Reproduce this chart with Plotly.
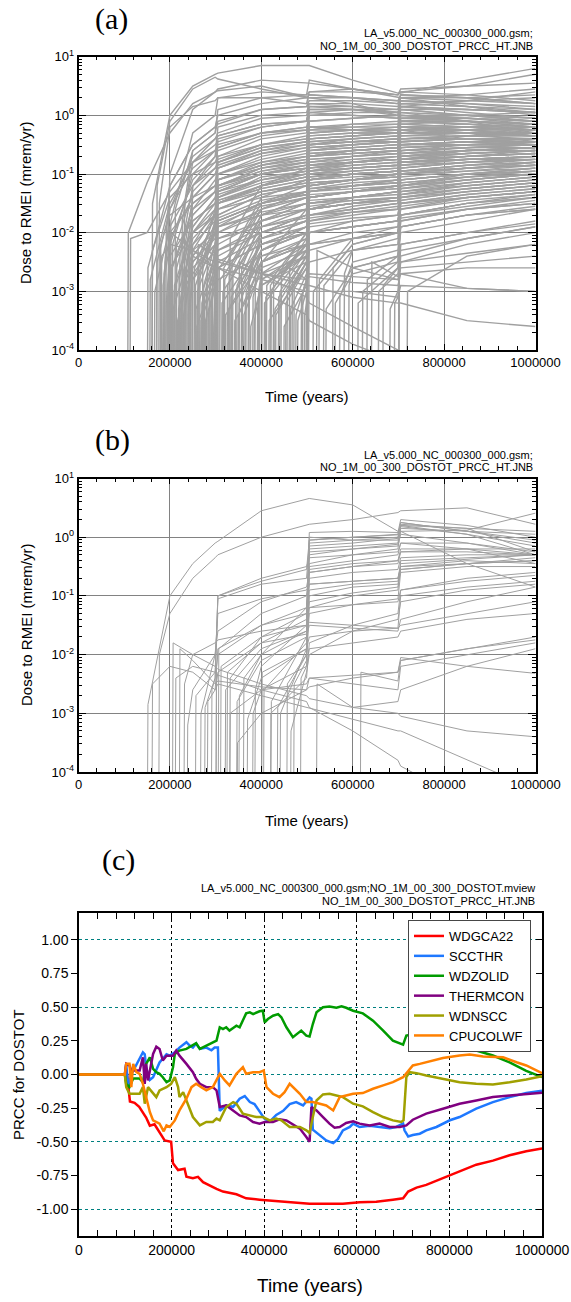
import plotly.graph_objects as go

_ = None

# ---------------- Panels (a) and (b): dose realizations ----------------
# Time knots (thousand years) at which each realization's log10 dose is read
KNOTS_KYR = [150, 200, 250, 299, 305, 400, 499, 505, 600, 699, 705, 850, 1000]

# row: onset time (kyr), log10 dose right after onset, then log10 dose at KNOTS_KYR (None = before onset)
DOSE_A = [
    (107, -2.0, -1.15, -0.3, 0.2, 0.4, 0.42, 0.5, 0.3, 0.3, 0.2, 0.0, 0.05, -0.1, -0.3),
    (112, -2.1, -2.0, -1.3, -0.8, -0.6, -0.55, -0.3, -0.2, -0.2, -0.25, -0.3, -0.25, -0.4, -0.5),
    (160, -1.5, _, 0.0, 0.5, 0.7, 0.72, 0.85, 0.85, 0.85, 0.6, 0.38, 0.38, 0.6, 0.8),
    (170, -1.2, _, -0.1, 0.45, 0.65, 0.62, 0.45, 0.3, 0.35, 0.3, 0.25, 0.3, 0.25, 0.2),
    (175, -1.5, _, -0.2, 0.15, 0.25, 0.3, 0.3, 0.2, 0.4, 0.45, 0.35, 0.4, 0.35, 0.25),
    (200, -1.8, _, _, -0.3, 0.0, 0.3, 0.4, 0.35, 0.6, 0.45, 0.35, 0.45, 0.5, 0.55),
    (230, -1.5, _, _, -0.6, -0.3, 0.1, 0.3, 0.35, 0.4, 0.4, 0.35, 0.4, 0.5, 0.7),
    (195, -1.7, _, -1.0, 0.1, 0.4, 0.45, 0.6, 0.55, 0.55, 0.45, 0.3, 0.3, 0.15, 0.0),
    (150, -2.6, _, -1.2, -0.5, -0.2, -0.15, 0.1, 0.15, 0.2, 0.15, 0.05, 0.1, 0.0, -0.1),
    (155, -2.8, _, -1.5, -0.8, -0.5, -0.45, -0.2, -0.1, 0.1, 0.1, 0.05, 0.15, 0.1, 0.05),
    (160, -2.3, _, -1.4, -1.0, -0.8, -0.7, -0.5, -0.35, -0.2, -0.2, -0.15, 0.0, -0.05, -0.15),
    (165, -3.0, _, -1.9, -1.2, -0.9, -0.85, -0.6, -0.5, -0.4, -0.35, -0.3, -0.15, -0.2, -0.3),
    (170, -2.5, _, -1.6, -0.9, -0.6, -0.5, -0.3, -0.25, -0.2, -0.25, -0.3, -0.2, -0.3, -0.45),
    (178, -2.2, _, -1.7, -1.4, -1.2, -1.1, -0.9, -0.8, -0.6, -0.55, -0.5, -0.3, -0.3, -0.3),
    (185, -2.7, _, -2.0, -1.5, -1.2, -1.0, -0.8, -0.7, -0.4, -0.35, -0.3, -0.1, -0.1, -0.2),
    (190, -3.2, _, -2.4, -1.8, -1.5, -1.3, -1.0, -0.9, -0.7, -0.6, -0.55, -0.35, -0.35, -0.4),
    (196, -2.4, _, -2.1, -1.4, -1.0, -0.9, -0.6, -0.45, -0.3, -0.25, -0.2, 0.0, -0.05, -0.1),
    (198, -3.0, _, -2.6, -2.0, -1.7, -1.5, -1.2, -1.0, -0.8, -0.7, -0.6, -0.4, -0.35, -0.3),
    (202, -2.6, _, _, -1.6, -1.1, -1.0, -0.7, -0.55, -0.45, -0.4, -0.35, -0.2, -0.25, -0.35),
    (205, -3.3, _, _, -2.2, -1.8, -1.6, -1.3, -1.15, -0.9, -0.85, -0.8, -0.55, -0.5, -0.5),
    (208, -2.9, _, _, -1.9, -1.4, -1.2, -0.9, -0.8, -0.5, -0.45, -0.4, -0.2, -0.2, -0.25),
    (212, -2.2, _, _, -1.3, -0.9, -0.8, -0.5, -0.4, -0.2, -0.2, -0.2, 0.0, -0.1, -0.2),
    (215, -3.5, _, _, -2.5, -2.1, -1.8, -1.5, -1.3, -1.1, -1.0, -0.95, -0.7, -0.6, -0.55),
    (218, -2.8, _, _, -1.7, -1.3, -1.2, -1.0, -0.9, -0.7, -0.6, -0.55, -0.35, -0.3, -0.35),
    (222, -3.1, _, _, -2.3, -2.0, -1.9, -1.7, -1.6, -1.4, -1.3, -1.2, -0.9, -0.8, -0.7),
    (225, -2.5, _, _, -1.4, -1.0, -0.9, -0.65, -0.55, -0.35, -0.3, -0.3, -0.1, -0.15, -0.2),
    (228, -3.4, _, _, -2.6, -2.2, -2.0, -1.6, -1.4, -1.2, -1.1, -1.0, -0.75, -0.7, -0.65),
    (232, -2.7, _, _, -1.8, -1.5, -1.3, -1.1, -1.0, -0.85, -0.8, -0.75, -0.5, -0.45, -0.45),
    (236, -3.0, _, _, -2.4, -1.9, -1.5, -1.2, -1.05, -0.6, -0.55, -0.5, -0.3, -0.3, -0.35),
    (240, -2.4, _, _, -2.0, -1.6, -1.45, -1.25, -1.1, -1.0, -0.95, -0.9, -0.65, -0.6, -0.55),
    (243, -3.2, _, _, -2.8, -2.3, -2.1, -1.8, -1.6, -1.4, -1.3, -1.25, -1.0, -0.9, -0.8),
    (247, -2.9, _, _, -2.3, -1.7, -1.1, -0.85, -0.7, -0.5, -0.45, -0.4, -0.2, -0.2, -0.25),
    (252, -2.6, _, _, _, -1.7, -1.5, -1.3, -1.2, -1.05, -1.0, -0.95, -0.75, -0.65, -0.6),
    (255, -3.3, _, _, _, -2.4, -1.3, -1.0, -0.85, -0.6, -0.55, -0.5, -0.3, -0.3, -0.3),
    (258, -3.0, _, _, _, -2.2, -2.0, -1.7, -1.5, -1.3, -1.2, -1.1, -0.85, -0.8, -0.75),
    (262, -2.8, _, _, _, -2.0, -1.1, -0.8, -0.65, -0.4, -0.35, -0.3, -0.1, -0.1, -0.15),
    (266, -3.5, _, _, _, -2.8, -2.5, -2.1, -1.9, -1.7, -1.55, -1.45, -1.2, -1.0, -0.9),
    (270, -2.5, _, _, _, -2.0, -1.8, -1.5, -1.35, -1.2, -1.1, -1.05, -0.8, -0.7, -0.65),
    (274, -3.1, _, _, _, -2.6, -1.4, -1.15, -1.0, -0.8, -0.75, -0.7, -0.45, -0.4, -0.4),
    (278, -2.9, _, _, _, -2.5, -2.3, -2.0, -1.8, -1.6, -1.5, -1.4, -1.1, -1.0, -0.9),
    (282, -3.4, _, _, _, -2.9, -1.6, -1.3, -1.15, -0.95, -0.9, -0.85, -0.6, -0.5, -0.5),
    (286, -2.7, _, _, _, -2.3, -2.1, -1.9, -1.75, -1.6, -1.5, -1.45, -1.3, -1.2, -1.1),
    (290, -3.0, _, _, _, -2.6, -1.2, -0.9, -0.75, -0.45, -0.4, -0.35, -0.15, -0.2, -0.25),
    (294, -3.6, _, _, _, -3.0, -2.8, -2.4, -2.2, -2.0, -1.9, -1.8, -1.5, -1.35, -1.25),
    (297, -2.8, _, _, _, -2.6, -1.5, -1.2, -1.05, -0.75, -0.7, -0.65, -0.4, -0.35, -0.35),
    (300, -3.0, _, _, _, _, -1.9, -1.5, -1.3, -1.1, -1.0, -0.95, -0.7, -0.6, -0.55),
    (301, -2.5, _, _, _, _, -1.3, -1.0, -0.85, -0.65, -0.6, -0.55, -0.3, -0.3, -0.35),
    (302, -3.3, _, _, _, _, -2.4, -2.0, -1.8, -1.5, -1.4, -1.3, -1.0, -0.9, -0.8),
    (300, -2.2, _, _, _, _, -1.0, -0.75, -0.6, -0.35, -0.3, -0.3, -0.05, -0.1, -0.15),
    (300, -1.6, _, _, _, _, -1.4, -1.1, -0.95, -0.7, -0.65, -0.6, -0.35, -0.3, -0.3),
    (300, -0.9, _, _, _, _, -0.8, -0.55, -0.45, -0.2, -0.15, -0.15, 0.05, 0.0, -0.05),
    (300, -0.4, _, _, _, _, -0.35, -0.15, -0.1, 0.15, 0.15, 0.1, 0.25, 0.2, 0.15),
    (300, -2.0, _, _, _, _, -1.85, -1.55, -1.4, -1.15, -1.1, -1.0, -0.75, -0.65, -0.6),
    (308, -2.8, _, _, _, _, _, -1.8, -1.5, -1.2, -1.1, -1.0, -0.75, -0.7, -0.6),
    (312, -3.2, _, _, _, _, _, -2.2, -1.9, -1.4, -1.3, -1.2, -0.95, -0.85, -0.8),
    (316, -2.6, _, _, _, _, _, -1.5, -1.2, -0.7, -0.6, -0.55, -0.3, -0.3, -0.3),
    (320, -3.4, _, _, _, _, _, -2.5, -2.2, -2.0, -1.9, -1.8, -1.5, -1.4, -1.3),
    (324, -2.9, _, _, _, _, _, -1.9, -1.6, -1.3, -1.25, -1.2, -0.95, -0.85, -0.75),
    (328, -2.4, _, _, _, _, _, -1.4, -1.1, -0.5, -0.4, -0.35, -0.1, -0.15, -0.25),
    (332, -3.1, _, _, _, _, _, -2.3, -2.0, -1.6, -1.5, -1.45, -1.2, -1.1, -1.0),
    (336, -2.7, _, _, _, _, _, -1.7, -1.4, -1.0, -0.95, -0.9, -0.65, -0.55, -0.5),
    (340, -3.5, _, _, _, _, _, -2.7, -2.4, -2.2, -2.1, -2.0, -1.7, -1.55, -1.4),
    (345, -2.9, _, _, _, _, _, -2.0, -1.7, -0.9, -0.8, -0.75, -0.5, -0.45, -0.45),
    (350, -3.2, _, _, _, _, _, -2.3, -2.0, -1.8, -1.7, -1.6, -1.35, -1.2, -1.1),
    (355, -2.6, _, _, _, _, _, -1.8, -1.5, -1.1, -1.0, -0.95, -0.7, -0.65, -0.6),
    (360, -3.4, _, _, _, _, _, -2.6, -2.3, -1.4, -1.3, -1.2, -0.9, -0.8, -0.75),
    (365, -3.0, _, _, _, _, _, -2.3, -2.0, -1.7, -1.65, -1.6, -1.4, -1.25, -1.15),
    (370, -2.8, _, _, _, _, _, -2.1, -1.8, -0.8, -0.7, -0.65, -0.4, -0.4, -0.45),
    (375, -3.6, _, _, _, _, _, -2.9, -2.5, -2.2, -2.1, -2.0, -1.75, -1.6, -1.5),
    (380, -3.1, _, _, _, _, _, -2.5, -2.2, -1.3, -1.2, -1.1, -0.85, -0.75, -0.7),
    (385, -2.7, _, _, _, _, _, -2.3, -1.9, -1.5, -1.45, -1.4, -1.1, -1.0, -0.95),
    (390, -3.3, _, _, _, _, _, -2.9, -2.4, -0.6, -0.5, -0.45, -0.2, -0.25, -0.35),
    (395, -3.0, _, _, _, _, _, -2.8, -2.3, -1.9, -1.8, -1.7, -1.4, -1.3, -1.2),
    (405, -3.2, _, _, _, _, _, _, -2.3, -1.0, -0.9, -0.85, -0.6, -0.55, -0.55),
    (410, -2.9, _, _, _, _, _, _, -2.0, -1.7, -1.6, -1.5, -1.25, -1.1, -1.0),
    (415, -3.5, _, _, _, _, _, _, -2.6, -2.3, -2.1, -2.0, -1.7, -1.5, -1.4),
    (420, -3.0, _, _, _, _, _, _, -2.1, -0.7, -0.6, -0.55, -0.3, -0.3, -0.35),
    (425, -2.8, _, _, _, _, _, _, -2.2, -1.3, -1.2, -1.15, -0.9, -0.8, -0.75),
    (430, -3.4, _, _, _, _, _, _, -2.5, -2.0, -1.9, -1.8, -1.55, -1.4, -1.3),
    (436, -3.1, _, _, _, _, _, _, -2.4, -1.1, -1.0, -0.95, -0.65, -0.6, -0.6),
    (442, -2.7, _, _, _, _, _, _, -2.2, -1.6, -1.5, -1.4, -1.15, -1.05, -0.95),
    (448, -3.6, _, _, _, _, _, _, -2.9, -2.5, -2.3, -2.2, -1.9, -1.7, -1.6),
    (455, -3.0, _, _, _, _, _, _, -2.5, -0.9, -0.8, -0.75, -0.5, -0.45, -0.5),
    (462, -3.3, _, _, _, _, _, _, -2.7, -1.8, -1.65, -1.55, -1.3, -1.15, -1.05),
    (470, -2.9, _, _, _, _, _, _, -2.5, -1.2, -1.1, -1.0, -0.75, -0.7, -0.65),
    (478, -3.5, _, _, _, _, _, _, -3.0, -2.2, -2.0, -1.9, -1.6, -1.45, -1.35),
    (486, -3.1, _, _, _, _, _, _, -2.8, -1.5, -1.4, -1.3, -1.0, -0.9, -0.85),
    (493, -3.4, _, _, _, _, _, _, -3.2, -2.0, -1.9, -1.8, -1.5, -1.4, -1.3),
    (500, -0.3, _, _, _, _, _, _, _, -0.25, -0.15, -0.1, 0.1, 0.1, 0.05),
    (500, 0.3, _, _, _, _, _, _, _, 0.3, 0.3, 0.25, 0.35, 0.3, 0.2),
    (500, -1.0, _, _, _, _, _, _, _, -0.95, -0.8, -0.7, -0.45, -0.4, -0.4),
    (500, -1.7, _, _, _, _, _, _, _, -1.6, -1.4, -1.3, -1.0, -0.9, -0.85),
    (502, -2.4, _, _, _, _, _, _, _, -2.0, -1.8, -1.7, -1.4, -1.25, -1.15),
    (512, -3.0, _, _, _, _, _, _, _, _, -2.2, -2.0, -1.6, -1.4, -1.3),
    (525, -2.8, _, _, _, _, _, _, _, _, -2.1, -1.9, -1.2, -1.1, -1.0),
    (540, -3.3, _, _, _, _, _, _, _, _, -2.6, -2.4, -2.0, -1.8, -1.6),
    (555, -2.6, _, _, _, _, _, _, _, _, -2.2, -2.0, -1.5, -1.35, -1.25),
    (570, -3.1, _, _, _, _, _, _, _, _, -2.5, -2.3, -1.8, -1.6, -1.45),
    (590, -2.9, _, _, _, _, _, _, _, _, -2.6, -2.4, -1.9, -1.7, -1.55),
    (610, -3.2, _, _, _, _, _, _, _, _, _, -2.6, -2.2, -2.0, -1.8),
    (630, -2.8, _, _, _, _, _, _, _, _, _, -2.4, -1.7, -1.5, -1.4),
    (655, -3.0, _, _, _, _, _, _, _, _, _, -2.7, -2.3, -2.1, -1.9),
    (680, -3.3, _, _, _, _, _, _, _, _, _, -3.0, -2.5, -2.2, -2.0),
    (700, -2.7, _, _, _, _, _, _, _, _, _, _, -2.2, -2.0, -1.85),
    (700, -0.2, _, _, _, _, _, _, _, _, _, _, -0.2, -0.15, -0.2),
    (700, -0.8, _, _, _, _, _, _, _, _, _, _, -0.75, -0.6, -0.55),
    (700, -1.4, _, _, _, _, _, _, _, _, _, _, -1.35, -1.15, -1.05),
    (718, -3.0, _, _, _, _, _, _, _, _, _, _, _, -2.4, -2.2),
    (200, -2.0, _, _, -2.3, -2.5, -2.5, -2.7, -2.9, -2.9, -3.1, -3.2, -3.2, -3.5, -3.6),
    (240, -2.3, _, _, -2.4, -2.6, -2.6, -2.8, -3.0, -3.0, -3.0, -3.1, -2.9, -2.95, -3.0),
    (350, -2.5, _, _, _, _, _, -2.7, -2.8, -2.75, -2.85, -2.9, -2.7, -2.6, -2.6),
    (460, -2.6, _, _, _, _, _, _, -2.8, -2.7, -2.75, -2.8, -2.6, -2.5, -2.4),
    (520, -2.3, _, _, _, _, _, _, _, _, -2.6, -2.8, -2.7, -2.95, -3.0),
    (640, -2.5, _, _, _, _, _, _, _, _, _, -2.75, -2.5, -2.35, -2.2),
    (180, -2.4, _, -2.2, -2.3, -2.6, -2.6, -3.0, -3.4, -3.5, -3.9, -4.2, -4.2, -4.6, -5.0),
    (260, -2.2, _, _, _, -2.4, -2.45, -2.7, -3.1, -3.2, -3.6, -4.0, -4.1, -4.5, -5.0),
    (210, -1.6, _, _, -0.6, -0.3, -0.1, 0.1, 0.15, 0.25, 0.25, 0.2, 0.35, 0.3, 0.2),
    (245, -2.0, _, _, -1.2, -0.7, -0.2, 0.0, 0.05, 0.2, 0.2, 0.15, 0.3, 0.3, 0.35),
    (280, -2.4, _, _, _, -1.8, -0.7, -0.4, -0.3, 0.05, 0.1, 0.1, 0.25, 0.2, 0.1),
    (330, -2.1, _, _, _, _, _, -1.2, -0.9, 0.0, 0.05, 0.05, 0.2, 0.25, 0.3),
    (400, -2.5, _, _, _, _, _, _, -1.6, -0.1, -0.05, 0.0, 0.2, 0.15, 0.05),
    (225, -1.8, _, _, -0.8, -0.4, -0.3, -0.05, 0.0, 0.15, 0.1, 0.0, 0.15, 0.25, 0.4),
    (190, -2.0, _, -1.2, -0.5, -0.2, 0.0, 0.2, 0.3, 0.35, 0.3, 0.2, 0.3, 0.35, 0.45),
    (260, -2.6, _, _, _, -1.6, -0.4, -0.2, -0.1, 0.1, 0.1, 0.05, 0.15, 0.05, -0.05),
    (183, -2.9, _, -2.2, -1.1, -0.7, -0.6, -0.35, -0.25, -0.1, -0.05, 0.0, 0.2, 0.15, 0.1),
    (187, -2.5, _, -1.6, -0.7, -0.4, -0.35, -0.15, -0.1, 0.05, 0.0, -0.05, 0.1, 0.0, -0.1),
    (193, -3.1, _, -2.7, -1.7, -1.3, -1.2, -0.95, -0.85, -0.55, -0.5, -0.45, -0.25, -0.2, -0.15),
    (204, -2.2, _, _, -1.0, -0.6, -0.55, -0.3, -0.2, 0.0, 0.0, -0.05, 0.15, 0.1, 0.05),
    (207, -3.0, _, _, -2.0, -1.5, -1.4, -1.05, -0.95, -0.75, -0.7, -0.65, -0.45, -0.4, -0.4),
    (213, -2.6, _, _, -1.5, -1.2, -1.1, -0.85, -0.75, -0.55, -0.5, -0.45, -0.25, -0.25, -0.3),
    (217, -3.3, _, _, -2.4, -1.9, -1.7, -1.35, -1.2, -0.95, -0.9, -0.85, -0.6, -0.55, -0.5),
    (220, -2.4, _, _, -1.2, -0.8, -0.75, -0.5, -0.4, -0.25, -0.25, -0.25, -0.05, 0.0, 0.05),
    (224, -3.0, _, _, -2.1, -1.7, -1.6, -1.4, -1.3, -1.15, -1.1, -1.05, -0.8, -0.75, -0.7),
    (227, -2.7, _, _, -1.6, -1.3, -0.8, -0.55, -0.45, -0.3, -0.25, -0.2, 0.0, 0.0, -0.05),
    (231, -3.2, _, _, -2.5, -2.0, -1.8, -1.5, -1.35, -1.25, -1.2, -1.15, -0.95, -0.9, -0.85),
    (234, -2.5, _, _, -1.9, -1.4, -1.35, -1.1, -0.95, -0.7, -0.65, -0.6, -0.4, -0.35, -0.3),
    (238, -3.4, _, _, -2.7, -2.2, -1.9, -1.65, -1.5, -1.35, -1.3, -1.2, -1.0, -0.95, -0.9),
    (242, -2.8, _, _, -2.2, -1.6, -1.5, -1.25, -1.1, -0.85, -0.8, -0.75, -0.55, -0.5, -0.45),
    (249, -3.1, _, _, -2.8, -2.0, -1.2, -0.95, -0.8, -0.55, -0.5, -0.45, -0.25, -0.25, -0.25),
    (254, -2.9, _, _, _, -1.9, -1.75, -1.45, -1.3, -1.1, -1.05, -1.0, -0.8, -0.75, -0.7),
    (257, -3.6, _, _, _, -2.7, -2.3, -1.9, -1.7, -1.5, -1.4, -1.35, -1.1, -1.0, -0.95),
    (264, -2.6, _, _, _, -1.8, -0.9, -0.65, -0.5, -0.3, -0.25, -0.25, -0.05, -0.05, -0.1),
    (268, -3.2, _, _, _, -2.4, -2.2, -1.8, -1.6, -1.45, -1.4, -1.3, -1.05, -0.95, -0.85),
    (272, -2.9, _, _, _, -2.2, -1.25, -1.0, -0.9, -0.7, -0.65, -0.6, -0.4, -0.35, -0.35),
    (276, -3.5, _, _, _, -2.9, -2.6, -2.2, -2.0, -1.85, -1.75, -1.7, -1.45, -1.3, -1.2),
    (284, -3.0, _, _, _, -2.5, -1.45, -1.2, -1.05, -0.85, -0.8, -0.75, -0.5, -0.5, -0.45),
    (288, -3.3, _, _, _, -2.8, -2.6, -2.2, -2.0, -1.75, -1.65, -1.6, -1.35, -1.25, -1.15),
    (292, -2.7, _, _, _, -2.4, -1.1, -0.85, -0.7, -0.5, -0.45, -0.45, -0.25, -0.2, -0.2),
    (296, -3.1, _, _, _, -2.9, -1.8, -1.5, -1.35, -1.15, -1.1, -1.0, -0.8, -0.7, -0.65),
    (303, -2.9, _, _, _, _, -1.7, -1.35, -1.2, -0.95, -0.9, -0.85, -0.6, -0.55, -0.5),
    (306, -2.6, _, _, _, _, _, -1.6, -1.3, -0.85, -0.8, -0.75, -0.5, -0.45, -0.4),
    (314, -3.0, _, _, _, _, _, -2.0, -1.7, -1.1, -1.0, -0.95, -0.7, -0.6, -0.55),
    (318, -2.8, _, _, _, _, _, -1.7, -1.4, -0.4, -0.35, -0.3, -0.1, -0.05, -0.1),
    (326, -3.3, _, _, _, _, _, -2.4, -2.1, -1.7, -1.6, -1.5, -1.25, -1.1, -1.0),
    (334, -2.5, _, _, _, _, _, -1.6, -1.3, -0.65, -0.6, -0.55, -0.3, -0.25, -0.2),
    (342, -3.0, _, _, _, _, _, -2.2, -1.9, -1.3, -1.2, -1.1, -0.8, -0.75, -0.75),
    (348, -3.4, _, _, _, _, _, -2.5, -2.2, -1.55, -1.45, -1.4, -1.1, -1.0, -0.9),
    (357, -2.9, _, _, _, _, _, -2.1, -1.8, -1.0, -0.9, -0.85, -0.55, -0.5, -0.5),
    (363, -3.2, _, _, _, _, _, -2.5, -2.1, -1.2, -1.1, -1.05, -0.75, -0.7, -0.65),
    (372, -2.7, _, _, _, _, _, -2.0, -1.7, -0.5, -0.45, -0.4, -0.15, -0.1, -0.15),
    (383, -3.5, _, _, _, _, _, -2.8, -2.4, -1.6, -1.5, -1.45, -1.2, -1.05, -0.95),
    (392, -3.0, _, _, _, _, _, -2.7, -2.2, -1.05, -0.95, -0.9, -0.6, -0.55, -0.55),
    (408, -3.1, _, _, _, _, _, _, -2.2, -1.4, -1.3, -1.2, -0.95, -0.85, -0.8),
    (418, -2.9, _, _, _, _, _, _, -2.0, -0.85, -0.75, -0.7, -0.45, -0.4, -0.4),
    (428, -3.3, _, _, _, _, _, _, -2.4, -1.6, -1.5, -1.4, -1.15, -1.05, -1.0),
    (439, -3.0, _, _, _, _, _, _, -2.3, -1.25, -1.15, -1.1, -0.8, -0.75, -0.7),
    (452, -3.2, _, _, _, _, _, _, -2.6, -1.4, -1.3, -1.25, -0.95, -0.9, -0.85),
    (466, -2.8, _, _, _, _, _, _, -2.4, -0.95, -0.85, -0.8, -0.55, -0.5, -0.45),
    (474, -3.4, _, _, _, _, _, _, -2.8, -1.7, -1.6, -1.5, -1.25, -1.15, -1.05),
    (489, -3.0, _, _, _, _, _, _, -2.8, -1.1, -1.0, -0.95, -0.7, -0.65, -0.6),
    (497, -3.2, _, _, _, _, _, _, -3.0, -1.3, -1.2, -1.15, -0.85, -0.75, -0.7),
    (535, -2.9, _, _, _, _, _, _, _, _, -2.3, -2.1, -1.3, -1.2, -1.1),
    (560, -3.2, _, _, _, _, _, _, _, _, -2.7, -2.5, -1.7, -1.5, -1.35),
    (580, -2.7, _, _, _, _, _, _, _, _, -2.3, -2.2, -1.45, -1.3, -1.2),
    (620, -3.0, _, _, _, _, _, _, _, _, _, -2.5, -1.9, -1.7, -1.6),
    (665, -2.9, _, _, _, _, _, _, _, _, _, -2.6, -1.8, -1.6, -1.5),
    (690, -3.2, _, _, _, _, _, _, _, _, _, -3.1, -2.4, -2.1, -1.9),
]

DOSE_B = [
    (150, -2.85, _, -1.0, -0.45, -0.1, -0.07, 0.45, 0.65, 0.66, 0.55, 0.1, 0.1, -0.45, -0.85),
    (175, -2.0, _, -1.3, -0.7, -0.35, -0.3, 0.0, 0.2, 0.22, 0.3, 0.42, 0.45, 0.5, 0.22),
    (330, -2.4, _, _, _, _, _, -1.7, -1.3, -0.2, -0.15, -0.1, 0.1, 0.12, 0.41),
    (385, -2.6, _, _, _, _, _, -2.2, -1.5, 0.08, 0.1, 0.08, 0.3, 0.2, 0.0),
    (420, -2.8, _, _, _, _, _, _, -1.7, -0.05, 0.0, 0.04, 0.25, 0.1, -0.1),
    (440, -3.0, _, _, _, _, _, _, -1.9, -0.15, -0.1, -0.02, 0.22, 0.15, -0.25),
    (300, -2.5, _, _, _, _, -2.3, -1.8, -1.4, 0.0, -0.05, -0.05, 0.18, 0.05, -0.3),
    (470, -2.5, _, _, _, _, _, _, -2.1, -0.45, -0.3, -0.2, 0.15, 0.1, 0.05),
    (350, -2.7, _, _, _, _, _, -2.0, -1.2, -0.3, -0.2, -0.12, 0.2, 0.05, -0.15),
    (255, -2.7, _, _, _, -2.3, -1.0, -0.75, -0.55, -0.05, 0.0, 0.05, 0.2, 0.15, 0.1),
    (275, -2.9, _, _, _, -2.4, -1.05, -0.8, -0.7, -0.1, -0.05, 0.0, 0.25, 0.1, -0.05),
    (300, -2.2, _, _, _, _, -2.0, -1.5, -1.2, -0.8, -0.75, -0.7, -0.45, -0.38, -0.3),
    (320, -2.6, _, _, _, _, _, -1.9, -1.6, -1.1, -0.95, -0.85, -0.55, -0.45, -0.4),
    (360, -2.4, _, _, _, _, _, -2.0, -1.6, -0.7, -0.6, -0.55, -0.35, -0.3, -0.3),
    (400, -2.3, _, _, _, _, _, _, -1.9, -0.9, -0.8, -0.75, -0.5, -0.4, -0.45),
    (305, -1.9, _, _, _, _, _, -1.3, -1.0, -0.55, -0.45, -0.4, -0.2, -0.2, -0.3),
    (290, -2.6, _, _, _, -2.4, -1.0, -0.7, -0.5, -0.35, -0.3, -0.25, -0.1, -0.1, -0.25),
    (205, -1.8, _, _, -2.0, -2.2, -2.25, -2.5, -2.7, -2.75, -2.9, -3.0, -3.05, -3.3, -3.4),
    (220, -1.9, _, _, -2.1, -2.5, -2.45, -2.55, -2.6, -2.55, -2.4, -2.3, -2.1, -1.9, -1.7),
    (330, -3.0, _, _, _, _, _, -2.6, -2.5, -2.4, -2.35, -2.3, -2.05, -2.2, -2.32),
    (616, -2.3, _, _, _, _, _, _, _, _, _, -2.45, -2.1, -1.9, -1.75),
    (520, -2.5, _, _, _, _, _, _, _, _, -2.9, -2.8, -2.6, -2.2, -1.9),
    (160, -2.5, _, -2.2, -2.3, -2.6, -2.5, -2.7, -2.9, -2.9, -3.1, -3.3, -3.3, -3.8, -4.3),
    (230, -2.5, _, _, -2.0, -1.8, -1.75, -1.6, -1.5, -1.45, -1.5, -1.55, -1.5, -1.3, -1.1),
    (345, -2.8, _, _, _, _, _, -2.1, -1.7, -1.5, -1.55, -1.6, -1.4, -1.1, -0.85),
    (380, -3.0, _, _, _, _, _, -2.6, -2.2, -1.9, -1.8, -1.7, -1.6, -1.4, -1.3),
    (237, -3.2, _, _, -2.6, -2.0, -1.6, -1.1, -0.85, -0.6, -0.5, -0.45, -0.25, -0.2, -0.2),
    (266, -3.0, _, _, _, -2.0, -1.3, -1.05, -0.9, -0.8, -0.75, -0.7, -0.5, -0.45, -0.4),
    (310, -2.2, _, _, _, _, _, -1.7, -1.5, -0.25, -0.2, -0.15, 0.05, -0.1, -0.3),
    (324, -2.3, _, _, _, _, _, -1.8, -1.65, -0.5, -0.4, -0.3, -0.1, -0.2, -0.45),
    (404, -2.6, _, _, _, _, _, _, -1.8, -1.2, -1.0, -0.9, -0.4, -0.35, -0.3),
    (434, -2.9, _, _, _, _, _, _, -2.0, -1.3, -1.15, -1.05, -0.6, -0.5, -0.5),
    (455, -2.5, _, _, _, _, _, _, -2.0, -0.6, -0.5, -0.4, -0.25, -0.25, -0.3),
    (485, -2.4, _, _, _, _, _, _, -2.2, -1.0, -0.85, -0.8, -0.55, -0.45, -0.35),
    (211, -2.4, _, _, -2.2, -2.3, -2.35, -2.6, -2.8, -2.9, -3.3, -3.8, -3.9, -4.5, -5.0),
    (281, -2.8, _, _, _, -2.6, -1.9, -1.5, -1.3, -1.2, -1.15, -1.1, -0.9, -0.75, -0.65),
    (368, -3.1, _, _, _, _, _, -2.4, -1.9, -1.7, -1.6, -1.55, -1.0, -0.85, -0.75),
    (346, -3.5, _, _, _, _, _, -3.0, -2.6, -2.4, -2.5, -2.6, -2.2, -2.0, -1.8),
    (463, -3.3, _, _, _, _, _, _, -2.3, -2.0, -1.6, -1.4, -1.1, -0.9, -0.8),
    (419, -3.0, _, _, _, _, _, _, -2.4, -1.8, -1.5, -1.3, -0.9, -0.7, -0.6),
]

# ---------------- Panel (c): PRCC time histories ----------------
PRCC_NAMES = ["WDGCA22", "SCCTHR", "WDZOLID", "THERMCON", "WDNSCC", "CPUCOLWF"]

T_WDGCA22 = [0, 100, 104, 106, 110, 120, 130, 145, 153, 163, 174, 185, 199, 203, 214, 228, 232, 246, 257, 268,
             297, 311, 340, 361, 390, 426, 462, 498, 534, 570, 606, 642, 678, 700, 711, 729, 750, 786, 822, 858,
             894, 930, 966, 1000]
P_WDGCA22 = [0, 0, 0, -0.07, -0.2, -0.21, -0.24, -0.32, -0.38, -0.37, -0.43, -0.49, -0.5, -0.66, -0.71, -0.70, -0.76, -0.77, -0.76, -0.80,
             -0.85, -0.87, -0.89, -0.92, -0.93, -0.94, -0.95, -0.96, -0.96, -0.96, -0.95, -0.945, -0.93, -0.92, -0.87, -0.84, -0.82, -0.77, -0.72, -0.67,
             -0.64, -0.60, -0.57, -0.55]

T_SCCTHR = [0, 99, 102, 106, 113, 138, 142, 145, 153, 160, 174, 181, 189, 196, 207, 217, 232, 239, 246, 253,
            261, 275, 286, 293, 300, 304, 311, 318, 333, 347, 358, 369, 379, 390, 401, 412, 426, 441, 455, 469,
            484, 498, 502, 505, 520, 534, 549, 559, 570, 585, 592, 606, 628, 649, 671, 685, 700, 703, 711, 721,
            736, 750, 772, 801, 822, 858, 894, 930, 966, 1000]
P_SCCTHR = [0, 0, 0.08, -0.09, 0.0, 0.165, 0.15, 0.05, -0.04, -0.02, 0.09, 0.12, 0.15, 0.14, 0.165, 0.20, 0.24, 0.215, 0.20, 0.23,
            0.19, 0.20, 0.18, 0.20, 0.20, -0.27, -0.25, -0.23, -0.24, -0.18, -0.16, -0.205, -0.22, -0.28, -0.33, -0.35, -0.30, -0.27, -0.22, -0.205,
            -0.23, -0.17, -0.18, -0.41, -0.45, -0.49, -0.51, -0.48, -0.415, -0.39, -0.365, -0.39, -0.38, -0.39, -0.40, -0.39, -0.365, -0.415, -0.46, -0.45,
            -0.44, -0.415, -0.39, -0.34, -0.316, -0.254, -0.205, -0.168, -0.138, -0.12]

T_WDZOLID = [0, 99, 102, 109, 117, 131, 138, 145, 153, 160, 167, 174, 181, 189, 196, 203, 207, 217, 232, 246,
             253, 261, 275, 289, 297, 304, 311, 318, 325, 333, 340, 347, 361, 369, 376, 390, 397, 401, 408, 419,
             430, 437, 448, 462, 469, 480, 491, 498, 505, 513, 527, 541, 556, 567, 577, 592, 613, 635, 657, 678,
             700, 707, 718, 729, 750, 786, 822, 858, 894, 930, 966, 1000]
P_WDZOLID = [0, 0, -0.07, -0.094, -0.03, -0.03, -0.056, 0.079, 0.128, 0.042, 0.017, 0.005, -0.02, -0.057, -0.044, 0.054, 0.153, 0.178, 0.19, 0.215,
             0.232, 0.19, 0.215, 0.24, 0.252, 0.351, 0.338, 0.351, 0.326, 0.346, 0.363, 0.351, 0.454, 0.462, 0.449, 0.47, 0.474, 0.388, 0.412, 0.437,
             0.449, 0.425, 0.351, 0.277, 0.296, 0.326, 0.289, 0.282, 0.375, 0.462, 0.5, 0.506, 0.496, 0.506, 0.496, 0.474, 0.454, 0.4, 0.326, 0.252,
             0.222, 0.289, 0.296, 0.264, 0.252, 0.222, 0.202, 0.178, 0.141, 0.09, 0.027, -0.02]

T_THERMCON = [0, 99, 102, 109, 113, 131, 138, 142, 145, 149, 160, 167, 174, 181, 189, 203, 210, 217, 232, 246,
              253, 261, 275, 289, 297, 304, 318, 333, 347, 361, 376, 390, 401, 419, 433, 448, 462, 477, 491, 498,
              502, 513, 527, 541, 552, 563, 577, 592, 606, 628, 649, 671, 693, 707, 721, 750, 786, 822, 858, 894,
              930, 966, 1000]
P_THERMCON = [0, 0, 0.08, 0.067, 0.03, 0.03, 0.128, -0.07, 0.08, -0.044, 0.153, 0.207, 0.19, 0.104, 0.14, 0.14, 0.178, 0.14, 0.079, 0.017,
              -0.032, -0.069, -0.094, -0.094, -0.118, -0.242, -0.23, -0.267, -0.304, -0.316, -0.353, -0.365, -0.353, -0.353, -0.333, -0.341, -0.37, -0.402, -0.464, -0.5,
              -0.242, -0.267, -0.316, -0.365, -0.395, -0.39, -0.36, -0.348, -0.365, -0.378, -0.365, -0.39, -0.39, -0.378, -0.336, -0.291, -0.254, -0.217, -0.193, -0.168,
              -0.156, -0.143, -0.136]

T_WDNSCC = [0, 99, 102, 109, 117, 131, 138, 142, 149, 160, 167, 174, 181, 189, 199, 207, 214, 217, 225, 232,
            246, 261, 275, 289, 297, 304, 318, 333, 340, 354, 369, 383, 397, 412, 426, 437, 455, 477, 491, 498,
            505, 513, 527, 541, 556, 570, 592, 613, 635, 657, 678, 696, 701, 707, 714, 729, 750, 786, 822, 858,
            894, 930, 966, 1000]
P_WDNSCC = [0, 0, -0.094, -0.143, -0.143, -0.143, -0.094, -0.217, -0.094, -0.143, -0.168, -0.118, -0.106, -0.094, -0.069, -0.02, -0.094, -0.168, -0.131, -0.193,
            -0.316, -0.378, -0.353, -0.353, -0.328, -0.341, -0.242, -0.205, -0.217, -0.291, -0.304, -0.316, -0.316, -0.341, -0.328, -0.341, -0.39, -0.39, -0.415, -0.435,
            -0.316, -0.193, -0.148, -0.143, -0.156, -0.168, -0.217, -0.237, -0.279, -0.316, -0.341, -0.353, -0.341, -0.02, 0.017, 0.01, -0.007, -0.032, -0.057, -0.069,
            -0.074, -0.057, -0.037, -0.012]

T_CPUCOLWF = [0, 99, 102, 109, 113, 117, 124, 131, 138, 145, 153, 160, 167, 174, 183, 189, 196, 207, 217, 232,
              243, 253, 264, 275, 289, 304, 315, 325, 340, 354, 361, 376, 390, 399, 405, 419, 433, 444, 455, 462,
              477, 491, 505, 520, 534, 549, 556, 563, 577, 592, 613, 635, 657, 678, 700, 711, 721, 736, 757, 786,
              822, 844, 873, 894, 916, 945, 966, 1000]
P_CPUCOLWF = [0, 0, 0.079, 0.079, -0.094, 0.079, 0.017, 0.005, -0.069, -0.168, -0.279, -0.341, -0.353, -0.365, -0.422, -0.378, -0.39, -0.341, -0.267, -0.18,
              -0.094, -0.069, -0.094, -0.118, -0.094, 0.005, -0.044, -0.081, 0.005, 0.054, 0.005, 0.017, 0.017, 0.03, -0.094, -0.143, -0.168, -0.131, -0.069, -0.094,
              -0.143, -0.205, -0.205, -0.217, -0.23, -0.267, -0.217, -0.168, -0.156, -0.143, -0.138, -0.106, -0.081, -0.057, -0.02, 0.03, 0.067, 0.079, 0.099, 0.123,
              0.141, 0.148, 0.133, 0.133, 0.128, 0.091, 0.067, 0.01]

PRCC_T = [T_WDGCA22, T_SCCTHR, T_WDZOLID, T_THERMCON, T_WDNSCC, T_CPUCOLWF]
PRCC_V = [P_WDGCA22, P_SCCTHR, P_WDZOLID, P_THERMCON, P_WDNSCC, P_CPUCOLWF]
PRCC_COLORS = ["rgb(255,0,0)", "rgb(30,120,255)", "rgb(0,155,0)", "rgb(128,0,128)", "rgb(160,160,0)", "rgb(255,128,0)"]

X_TICKS = [0, 200000, 400000, 600000, 800000, 1000000]
Y_DECADES = [1e-4, 1e-3, 1e-2, 1e-1, 1e0, 1e1]
Y_DECADE_LABELS = ["10<sup>-4</sup>", "10<sup>-3</sup>", "10<sup>-2</sup>", "10<sup>-1</sup>", "10<sup>0</sup>", "10<sup>1</sup>"]
PRCC_TICKS = [-1.0, -0.75, -0.5, -0.25, 0.0, 0.25, 0.5, 0.75, 1.0]


def build_dose(rows):
    xs, ys = [], []
    for r in rows:
        assert len(r) == 2 + len(KNOTS_KYR), r
        t0, v0 = r[0], r[1]
        xs += [t0 * 1000, (t0 + 2) * 1000]
        ys += [1e-6, 10 ** v0]
        for k, v in zip(KNOTS_KYR, r[2:]):
            if v is None:
                continue
            xs.append(k * 1000)
            ys.append(10 ** v)
        xs.append(None)
        ys.append(None)
    return xs, ys


W, H = 571, 1302
FONT = "Liberation Sans, Arial, sans-serif"
SERIF = "Liberation Serif, Times New Roman, serif"


def px(x):
    return x / W


def py(y):
    return 1 - y / H


fig = go.Figure()

for rows, xa, ya, lw in [(DOSE_A, "x", "y", 1.4), (DOSE_B, "x2", "y2", 1.0)]:
    xs, ys = build_dose(rows)
    fig.add_trace(go.Scatter(x=xs, y=ys, mode="lines", connectgaps=False,
                             line=dict(color="rgb(160,160,160)", width=lw),
                             xaxis=xa, yaxis=ya, showlegend=False, hoverinfo="skip"))

for name, t, v, c in zip(PRCC_NAMES, PRCC_T, PRCC_V, PRCC_COLORS):
    fig.add_trace(go.Scatter(x=[k * 1000 for k in t], y=v, mode="lines", name=name,
                             line=dict(color=c, width=2.5), xaxis="x3", yaxis="y3"))

# helper trace for the right-hand axis of panel (c)
fig.add_trace(go.Scatter(x=[0], y=[0], mode="markers", marker=dict(opacity=0),
                         xaxis="x3", yaxis="y4", showlegend=False, hoverinfo="skip"))

minor_log = [m * 10 ** e for e in range(-4, 1) for m in range(2, 10)]

def dose_xaxis(dom, anchor):
    return dict(domain=dom, anchor=anchor, range=[0, 1000000], tickmode="array",
                tickvals=X_TICKS, ticktext=[str(v) for v in X_TICKS],
                showgrid=True, gridcolor="rgb(130,130,130)", gridwidth=1,
                ticks="inside", ticklen=6, tickcolor="black", mirror="allticks",
                showline=True, linecolor="black", linewidth=1.5, zeroline=False,
                minor=dict(dtick=40000, tick0=0, ticks="inside", ticklen=4, tickcolor="black", showgrid=False),
                tickfont=dict(family=FONT, size=13, color="black"))

def dose_yaxis(dom, anchor):
    return dict(domain=dom, anchor=anchor, type="log", range=[-4, 1], tickmode="array",
                tickvals=Y_DECADES, ticktext=Y_DECADE_LABELS,
                showgrid=True, gridcolor="rgb(130,130,130)", gridwidth=1,
                ticks="inside", ticklen=8, tickcolor="black", mirror="allticks",
                showline=True, linecolor="black", linewidth=1.5, zeroline=False,
                minor=dict(tickmode="array", tickvals=minor_log, ticks="inside", ticklen=4,
                           tickcolor="black", showgrid=False),
                tickfont=dict(family=FONT, size=13, color="black"))

XD_AB = [px(78.5), px(535.5)]
fig.update_layout(
    width=W, height=H, autosize=False, margin=dict(l=0, r=0, t=0, b=0, autoexpand=False),
    paper_bgcolor="white", plot_bgcolor="white",
    xaxis=dose_xaxis(XD_AB, "y"),
    yaxis=dose_yaxis([py(350), py(56.7)], "x"),
    xaxis2=dose_xaxis(XD_AB, "y2"),
    yaxis2=dose_yaxis([py(772), py(478.5)], "x2"),
    xaxis3=dict(domain=[px(79), px(542)], anchor="y3", range=[0, 1000000], tickmode="array",
                tickvals=X_TICKS, ticktext=[str(v) for v in X_TICKS],
                showgrid=True, gridcolor="black", griddash="dot", gridwidth=1,
                ticks="inside", ticklen=6, tickcolor="black", mirror="allticks",
                showline=True, linecolor="black", linewidth=1.5, zeroline=False,
                minor=dict(dtick=40000, tick0=0, ticks="inside", ticklen=4, tickcolor="black", showgrid=False),
                tickfont=dict(family=FONT, size=14, color="black")),
    yaxis3=dict(domain=[py(1236), py(913)], anchor="x3", range=[-1.2, 1.2], tickmode="array",
                tickvals=PRCC_TICKS, ticktext=["%.2f" % v for v in PRCC_TICKS],
                showgrid=False, ticks="outside", ticklen=6, tickcolor="black",
                showline=True, linecolor="black", linewidth=1.5, zeroline=False,
                tickfont=dict(family=FONT, size=14, color="black")),
    yaxis4=dict(domain=[py(1236), py(913)], anchor="x3", overlaying="y3", side="right",
                range=[-1.2, 1.2], tickmode="array", tickvals=[-1.0, -0.5, 0.0, 0.5, 1.0],
                showticklabels=False, showgrid=True, gridcolor="rgb(0,128,128)", griddash="dot", gridwidth=1,
                ticks="inside", ticklen=6, tickcolor="black",
                showline=True, linecolor="black", linewidth=1.5, zeroline=False,
                minor=dict(tickmode="array", tickvals=[-0.75, -0.25, 0.25, 0.75], ticks="inside",
                           ticklen=6, tickcolor="black", showgrid=False)),
    legend=dict(x=px(408), y=py(920), xanchor="left", yanchor="top",
                bgcolor="white", bordercolor="rgb(70,70,70)", borderwidth=1,
                font=dict(family=FONT, size=13, color="black"), tracegroupgap=0),
)

ann = []
def text(x, y, s, size, family=FONT, xanchor="center", angle=0):
    ann.append(dict(x=px(x), y=py(y), xref="paper", yref="paper", text=s, showarrow=False,
                    xanchor=xanchor, yanchor="middle", textangle=angle,
                    font=dict(family=family, size=size, color="black")))

# panel labels
text(111, 19, "(a)", 30, SERIF)
text(112, 440, "(b)", 30, SERIF)
text(118, 860, "(c)", 30, SERIF)
# file headers
for top in (56.7, 478.5):
    text(535, top - 24, "LA_v5.000_NC_000300_000.gsm;", 11, xanchor="right")
    text(535, top - 11, "NO_1M_00_300_DOSTOT_PRCC_HT.JNB", 11, xanchor="right")
text(537, 888, "LA_v5.000_NC_000300_000.gsm;NO_1M_00_300_DOSTOT.mview", 11, xanchor="right")
text(537, 901, "NO_1M_00_300_DOSTOT_PRCC_HT.JNB", 11, xanchor="right")
# axis titles
text(26, 203, "Dose to RMEI (mrem/yr)", 15, angle=-90)
text(26, 625, "Dose to RMEI (mrem/yr)", 15, angle=-90)
text(307, 397, "Time (years)", 15)
text(307, 820, "Time (years)", 15)
text(18, 1075, "PRCC for DOSTOT", 15, angle=-90)
text(310, 1285, "Time (years)", 19)

fig.update_layout(annotations=ann)
fig.write_html(
    "out.html",
    config={"responsive": False, "displayModeBar": False},
    post_script="document.documentElement.style.margin='0';document.body.style.margin='0';"
                "document.body.style.padding='0';document.documentElement.style.overflow='hidden';"
                "document.body.style.overflow='hidden';",
)
